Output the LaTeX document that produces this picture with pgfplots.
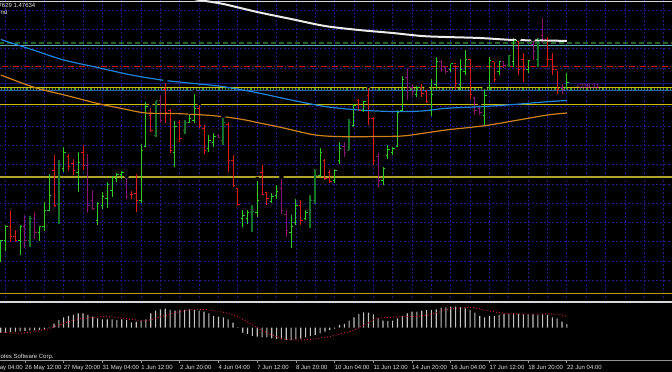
\documentclass[border=0pt]{standalone}
\usepackage{fontspec}
\setmainfont{Liberation Sans}
\usepackage{pgfplots}
\pgfplotsset{compat=1.18}
\usepackage{pgfplotstable}

\definecolor{gridnavy}{RGB}{28,28,135}
\definecolor{barup}{RGB}{45,205,35}
\definecolor{bardn}{RGB}{220,25,25}
\definecolor{barpu}{RGB}{135,20,110}
\definecolor{bardg}{RGB}{20,115,40}
\definecolor{maw}{RGB}{235,235,235}
\definecolor{mab}{RGB}{30,130,220}
\definecolor{mao}{RGB}{205,130,25}
\definecolor{lvlyel}{RGB}{205,190,0}
\definecolor{lvlolive}{RGB}{175,165,40}
\definecolor{lvlred}{RGB}{205,20,20}
\definecolor{lvlgreen}{RGB}{35,100,40}
\definecolor{lvlteal}{RGB}{100,170,180}
\definecolor{lvlblue}{RGB}{45,95,170}
\definecolor{lvlnavy}{RGB}{25,25,115}
\definecolor{lvlmid}{RGB}{80,150,60}
\definecolor{oschist}{RGB}{195,195,195}
\definecolor{oscsig}{RGB}{225,30,55}
\definecolor{txtgrey}{RGB}{225,225,225}
\definecolor{axgrey}{RGB}{150,150,150}
\definecolor{sepwhite}{RGB}{215,215,215}
\definecolor{labmag}{RGB}{190,30,190}

\pgfdeclareplotmark{otick}{\pgfpathmoveto{\pgfqpoint{-1.9pt}{0pt}}\pgfpathlineto{\pgfqpoint{0pt}{0pt}}\pgfusepathqstroke}
\pgfdeclareplotmark{ctick}{\pgfpathmoveto{\pgfqpoint{0pt}{0pt}}\pgfpathlineto{\pgfqpoint{1.9pt}{0pt}}\pgfusepathqstroke}

% bar index, high, low, open, close (price in chart pixel units, smaller = higher)
\pgfplotstableread{
i hi lo op cl
0 238 262 255 240
1 223 251 240 226
4 223 255 240 226
8 224 241 232 226
9 200 231 226 210
10 172 211 210 195
13 145 172 168 152
16 150 192 172 162
20 200 225 220 203
21 190 209 205 196
22 180 208 198 184
23 174 197 190 176
24 171 182 178 174
25 169 179 174 172
29 142 203 200 150
30 100 147 146 106
36 119 167 152 126
39 112 123 122 118
40 92 123 120 108
43 133 152 148 140
44 131 147 142 136
50 208 227 218 215
51 208 224 218 212
53 179 217 212 200
56 191 203 201 196
57 183 199 195 191
60 213 248 232 226
61 197 225 222 205
63 208 220 218 212
66 146 177 175 152
69 167 183 180 170
70 140 164 160 148
73 102 127 125 105
75 99 112 110 101
79 165 185 180 168
80 143 159 155 149
81 145 155 152 148
82 108 147 146 112
83 74 111 110 80
86 84 97 95 88
89 77 116 110 95
90 55 89 85 62
93 62 72 70 64
95 57 90 85 70
96 48 75 72 60
100 87 125 115 96
101 55 90 88 61
103 60 75 72 62
106 36 67 62 41
109 58 73 70 61
117 71 89 88 83
}\tabup
\pgfplotstableread{
i hi lo op cl
2 208 242 226 236
3 228 242 236 240
11 153 207 170 205
14 152 171 156 166
15 157 175 163 170
17 143 170 152 165
27 189 199 194 194
28 172 212 193 200
31 106 132 115 130
34 81 123 90 112
35 107 153 110 150
37 118 142 122 138
41 103 128 108 125
42 123 154 128 150
47 120 172 124 160
48 153 187 160 185
49 187 206 188 204
54 163 195 172 194
55 190 205 192 198
62 198 225 205 220
67 157 180 160 178
68 168 183 172 181
74 97 111 100 110
76 86 125 96 118
77 115 165 118 160
87 82 97 88 94
88 88 103 92 101
94 63 89 64 84
97 57 99 60 95
102 60 82 62 80
107 39 75 42 70
108 51 82 60 70
113 35 67 40 60
114 51 75 60 70
115 69 94 70 90
}\tabdn
\pgfplotstableread{
i hi lo op cl
5 213 248 226 240
7 210 239 218 232
18 152 213 165 205
19 188 210 200 208
26 176 199 178 196
33 93 123 100 120
45 132 138 135 137
58 177 214 188 210
59 208 237 214 230
71 140 157 146 152
78 151 187 156 180
84 66 100 78 88
85 82 97 88 92
91 58 72 62 70
92 64 74 68 72
98 95 115 98 110
99 103 115 108 112
104 60 68 62 66
110 39 60 45 52
112 16 43 36 40
116 82 94 88 90
}\tabpu
\pgfplotstableread{
i hi lo op cl
6 214 247 240 218
12 158 224 204 165
32 99 137 135 100
38 118 134 130 122
46 116 145 140 122
52 203 232 212 211
64 193 228 222 200
65 167 204 200 175
72 117 150 150 122
105 53 67 66 56
111 36 67 60 40
}\tabdg

% oscillator histogram
\pgfplotstableread{
i v
0 -5
1 -5
2 -4.3
3 -4
4 -3.7
5 -3.3
6 -3
7 -2.7
8 -2.3
9 -1.7
10 -0.5
11 4
12 7.5
13 10.3
14 11.7
15 12.7
16 14.3
17 14.3
18 12.7
19 11
20 9.3
21 8.3
22 8.3
23 8.3
24 7.7
25 8.3
26 7.7
27 5.3
28 6
29 7
30 8.3
31 14.3
32 17
33 18.3
34 19
35 17.7
36 17
37 17.7
38 17.7
39 18.3
40 17.7
41 17
42 16
43 14.3
44 11.7
45 11
46 10.3
47 8.3
48 5
49 0.5
50 -5
51 -6.3
52 -8.3
53 -9
54 -9.7
55 -9.7
56 -10.7
57 -11.3
58 -11.7
59 -12.3
60 -12.3
61 -11.7
62 -11
63 -9.7
64 -8.3
65 -7.3
66 -5.7
67 -4
68 -2.3
69 -1
70 2.7
71 3.7
72 7
73 10.3
74 13.7
75 15.3
76 15
77 13.3
78 9.3
79 7
80 6.7
81 7
82 9.3
83 11.7
84 14.3
85 16
86 16
87 17
88 17.7
89 17.7
90 18.3
91 20
92 20.3
93 21
94 21
95 20.3
96 19.3
97 17.7
98 15
99 11.7
100 10.3
101 11.7
102 11.7
103 12.7
104 13.7
105 13.7
106 14.3
107 13.7
108 13.3
109 13.3
110 13.3
111 12.7
112 13.3
113 12.7
114 10.3
115 9.3
116 6
117 3.5
}\osc
\pgfplotstableread{
i v
0 -4.5
4 -5.5
8 -3
10 -0.7
14 6
17 9.3
21 11
24 10.3
27 8.3
30 7
32 9.5
36 15
40 18.3
43 17.7
47 14.3
50 8.3
53 0
55 -5
58 -10.7
61 -12.3
64 -11.7
67 -9.7
69 -7.7
73 -2.3
76 5
78 9.5
83 11
87 11.7
90 15
93 19
97 20.3
100 17.7
104 14.3
107 13.7
114 13.7
116 12.7
117 11
}\sig

\newcommand{\ohlc}[3]{%
  \addplot[only marks, mark=none, forget plot, error bars/.cd, y dir=plus, y explicit, error mark=none,
    error bar style={draw=#2, line width=#3, solid}]
    table[x=i, y=hi, y error expr=\thisrow{lo}-\thisrow{hi}] {#1};
  \addplot[only marks, mark=otick, color=#2, forget plot, mark options={line width=1pt, solid}] table[x=i, y=op] {#1};
  \addplot[only marks, mark=ctick, color=#2, forget plot, mark options={line width=1pt, solid}] table[x=i, y=cl] {#1};
}

\begin{document}
\begin{tikzpicture}
\useasboundingbox (0pt,0pt) rectangle (672pt,372pt);
\fill[black] (0pt,0pt) rectangle (672pt,372pt);

% ---------------- main price panel ----------------
\begin{axis}[
  at={(0pt,372pt)}, anchor=north west,
  width=672pt, height=300pt, scale only axis,
  xmin=-0.165, xmax=138.73, ymin=0, ymax=300, y dir=reverse,
  axis line style={draw=none}, tick style={draw=none}, major tick length=0pt,
  xtick={1,5,...,137},
  ytick={10.2,29.5,48.8,68.1,87.4,106.7,126,145.3,164.6,183.9,203.2,222.5,241.8,261.1,280.4},
  xticklabels={}, yticklabels={},
  grid=major, major grid style={gridnavy, dash pattern=on 2pt off 2pt, line width=0.8pt},
  clip=true,
]
% horizontal levels
\addplot[sepwhite, line width=1pt] coordinates {(-2,1.2) (140,1.2)};
\addplot[lvlgreen, line width=2pt, dash pattern=on 5pt off 3pt] coordinates {(-2,43.4) (140,43.4)};
\addplot[lvlteal, line width=0.9pt] coordinates {(-2,45.2) (140,45.2)};
\addplot[lvlred, line width=1pt, dash pattern=on 6pt off 2pt on 1pt off 2pt] coordinates {(-2,66.6) (140,66.6)};
\addplot[lvlnavy, line width=1pt] coordinates {(-2,83.4) (140,83.4)};
\addplot[lvlyel, line width=1.4pt] coordinates {(-2,87.7) (140,87.7)};
\addplot[lvlmid, line width=1.2pt, dotted] coordinates {(-2,89.1) (140,89.1)};
\addplot[lvlblue, line width=1pt] coordinates {(-2,90.5) (140,90.5)};
\addplot[lvlyel, line width=1pt] coordinates {(-2,104.3) (140,104.3)};
\addplot[lvlolive, line width=1.2pt] coordinates {(-2,177) (140,177)};
\addplot[lvlyel!85!black, line width=1pt] coordinates {(-2,293.7) (140,293.7)};

% bars
\ohlc{\tabdg}{bardg}{2pt}
\ohlc{\tabup}{barup}{1pt}
\ohlc{\tabdn}{bardn}{1pt}
\ohlc{\tabpu}{barpu}{1pt}

% moving averages
\addplot[maw, line width=2pt, smooth] coordinates {
 (38,-3) (41,0) (46,4) (53,12) (60,19) (67,26) (74,30) (81,33) (87,36) (92,37) (99,38) (106,40) (113,40.5) (117,41)};
\addplot[mab, line width=1.2pt, smooth] coordinates {
 (0,39.5) (7,50.5) (13,60) (20,67.5) (27,75) (34,80.5) (41,84) (46,86.7) (53,92.7) (60,100) (67,106.5) (74,110) (81,111.5) (87,111) (92,108.3) (99,106.7) (106,104.5) (113,101.7) (117,100.5)};
\addplot[mao, line width=1.2pt, smooth] coordinates {
 (0,75) (7,87.5) (14,96) (20,103.5) (25,108.5) (30,113) (36,113.5) (42,115) (46,116.7) (50,119.5) (53,122.5) (58,127.5) (65,135) (71,136.7) (78,136.5) (83,136) (87,133.5) (92,130) (100,125.7) (107,120) (113,115) (117,113)};

% texts
\node[anchor=west, inner sep=0pt, text=txtgrey, font=\fontsize{6}{7}\selectfont] at (axis cs:-0.5,5) {7629 1.47634};
\node[anchor=west, inner sep=0pt, text=txtgrey, font=\fontsize{6}{7}\selectfont] at (axis cs:-0.1,12.7) {nd};
\node[anchor=west, inner sep=0pt, text=labmag, font=\fontsize{6.3}{7}\selectfont] at (axis cs:118.9,86.0) {<218.21};
\end{axis}

% ---------------- oscillator panel ----------------
\begin{axis}[
  at={(0pt,11pt)}, anchor=south west,
  width=672pt, height=58pt, scale only axis,
  xmin=-0.165, xmax=138.73, ymin=-33.3, ymax=24.7,
  axis line style={draw=none},
  ytick=\empty,
  xtick={5,13,...,117},
  xticklabels={26 May 12:00, 27 May 20:00, 31 May 04:00, 1 Jun 12:00, 2 Jun 20:00, 4 Jun 04:00, 7 Jun 12:00, 8 Jun 20:00, 10 Jun 04:00, 11 Jun 12:00, 14 Jun 20:00, 16 Jun 04:00, 17 Jun 12:00, 18 Jun 20:00, 22 Jun 04:00},
  xtick pos=bottom, tick align=outside, major tick length=2.5pt,
  tick style={axgrey, line width=0.8pt},
  xticklabel style={anchor=north west, inner sep=0pt, yshift=-1.5pt, text=txtgrey, font=\fontsize{6}{7}\selectfont},
  clip=false,
]
\addplot[ybar, bar width=1.1pt, fill=oschist, draw=none] table[x=i, y=v] {\osc};
\addplot[oscsig, line width=0.9pt, dotted, smooth] table[x=i, y=v] {\sig};
\draw[axgrey, line width=1pt] (rel axis cs:0,0) -- (rel axis cs:1,0);
\node[anchor=north west, inner sep=0pt, text=txtgrey, font=\fontsize{6}{7}\selectfont] at (axis cs:-3,-37.3) {25 May 04:00};
\node[anchor=west, inner sep=0pt, text=txtgrey, font=\fontsize{6}{7}\selectfont] at (axis cs:-0.1,-29) {otes Software Corp.};
\end{axis}

\draw[sepwhite, line width=1.8pt] (0pt,70.3pt) -- (672pt,70.3pt);
\end{tikzpicture}
\end{document}
